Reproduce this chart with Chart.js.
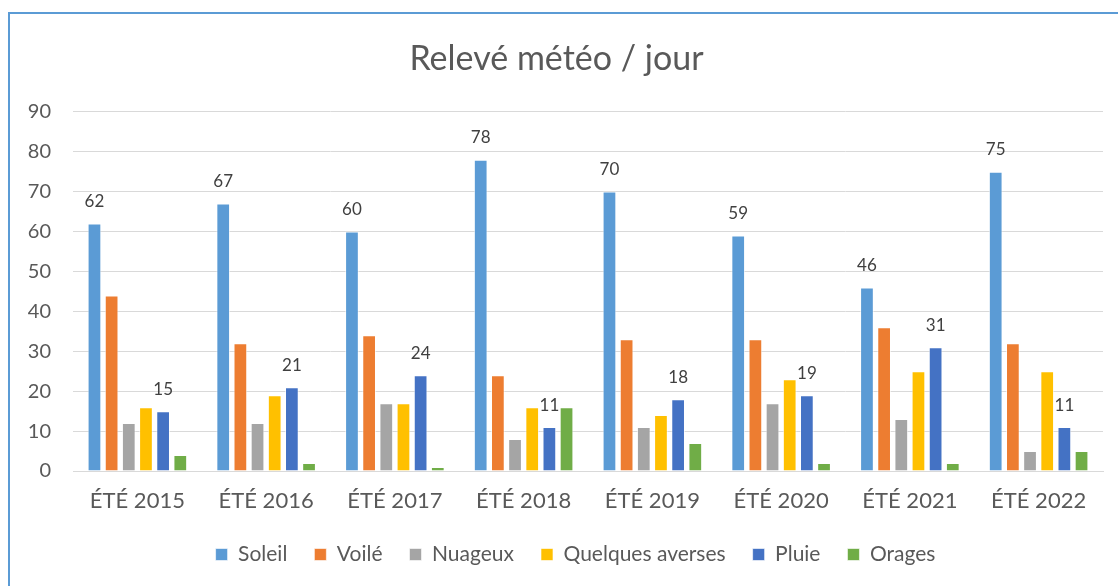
<!DOCTYPE html>
<html>
<head>
<meta charset="utf-8">
<script src="https://cdn.jsdelivr.net/npm/chart.js@4"></script>
<style>
  html, body { margin: 0; padding: 0; background: #ffffff; }
  #wrap { position: relative; width: 1118px; height: 586px; overflow: hidden; }
  #frame { position: absolute; left: 8px; top: 12px; width: 1200px; height: 700px;
           border-left: 2px solid #5B9BD5; border-top: 2px solid #5B9BD5; box-sizing: border-box; }
  canvas { position: absolute; left: 0; top: 0; }
</style>
</head>
<body>
<div id="wrap">
  <div id="frame"></div>
  <canvas id="c" width="1118" height="586"></canvas>
</div>
<script>
const categories = ["ÉTÉ 2015", "ÉTÉ 2016", "ÉTÉ 2017", "ÉTÉ 2018", "ÉTÉ 2019", "ÉTÉ 2020", "ÉTÉ 2021", "ÉTÉ 2022"];
const soleil   = [62, 67, 60, 78, 70, 59, 46, 75];
const voile    = [44, 32, 34, 24, 33, 33, 36, 32];
const nuageux  = [12, 12, 17, 8, 11, 17, 13, 5];
const averses  = [16, 19, 17, 16, 14, 23, 25, 25];
const pluie    = [15, 21, 24, 11, 18, 19, 31, 11];
const orages   = [4, 2, 1, 16, 7, 2, 2, 5];
const yTicks   = [0, 10, 20, 30, 40, 50, 60, 70, 80, 90];

const FONT = "Lato, 'Open Sans', sans-serif";
const TXT = "#595959";

const labelPlugin = {
  id: "valueLabels",
  afterDatasetsDraw(chart) {
    const ctx = chart.ctx;
    ctx.save();
    ctx.font = "17px " + FONT;
    ctx.fillStyle = "#404040";
    ctx.textAlign = "center";
    ctx.textBaseline = "middle";
    chart.data.datasets.forEach((ds, i) => {
      if (!ds.showLabels) return;
      const meta = chart.getDatasetMeta(i);
      meta.data.forEach((bar, j) => {
        ctx.fillText(String(ds.data[j]), bar.x, bar.y - 22);
      });
    });
    ctx.restore();
  }
};

const legendShift = {
  id: "legendShift",
  afterLayout(chart) {
    if (chart.legend) { chart.legend.left += 19; chart.legend.right += 19; }
  }
};

const mk = (label, data, color, showLabels) => ({
  label, data, backgroundColor: color, borderColor: "rgba(255,255,255,0.6)", borderWidth: 1,
  categoryPercentage: 0.8, barPercentage: 0.8, showLabels
});

new Chart(document.getElementById("c"), {
  type: "bar",
  data: {
    labels: categories,
    datasets: [
      mk("Soleil", soleil, "#5B9BD5", true),
      mk("Voilé", voile, "#ED7D31", false),
      mk("Nuageux", nuageux, "#A5A5A5", false),
      mk("Quelques averses", averses, "#FFC000", false),
      mk("Pluie", pluie, "#4472C4", true),
      mk("Orages", orages, "#70AD47", false)
    ]
  },
  options: {
    responsive: false,
    animation: false,
    layout: { padding: { left: 10, right: 15, top: 12, bottom: 11 } },
    plugins: {
      title: {
        display: true, text: "Relevé météo / jour", color: TXT,
        font: { family: FONT, size: 34, weight: "normal" },
        padding: { top: 27, bottom: 32 }
      },
      legend: {
        position: "bottom",
        labels: {
          color: TXT, font: { family: FONT, size: 21 },
          boxWidth: 12, boxHeight: 12, padding: 27
        }
      },
      tooltip: { enabled: false }
    },
    scales: {
      x: {
        afterFit(axis) { axis.height = 46; },
        grid: { display: false, drawTicks: false },
        border: { display: true, color: "#d9d9d9", width: 1 },
        ticks: { color: TXT, font: { family: FONT, size: 22 }, padding: 17 }
      },
      y: {
        min: 0, max: 90,
        afterBuildTicks(axis) { axis.ticks = yTicks.map(v => ({ value: v })); },
        afterFit(axis) { axis.width = 63; },
        grid: { color: "#d9d9d9", lineWidth: 1, drawTicks: false },
        border: { display: false },
        ticks: { color: TXT, font: { family: FONT, size: 20 }, padding: 22 }
      }
    }
  },
  plugins: [labelPlugin, legendShift]
});
</script>
</body>
</html>
